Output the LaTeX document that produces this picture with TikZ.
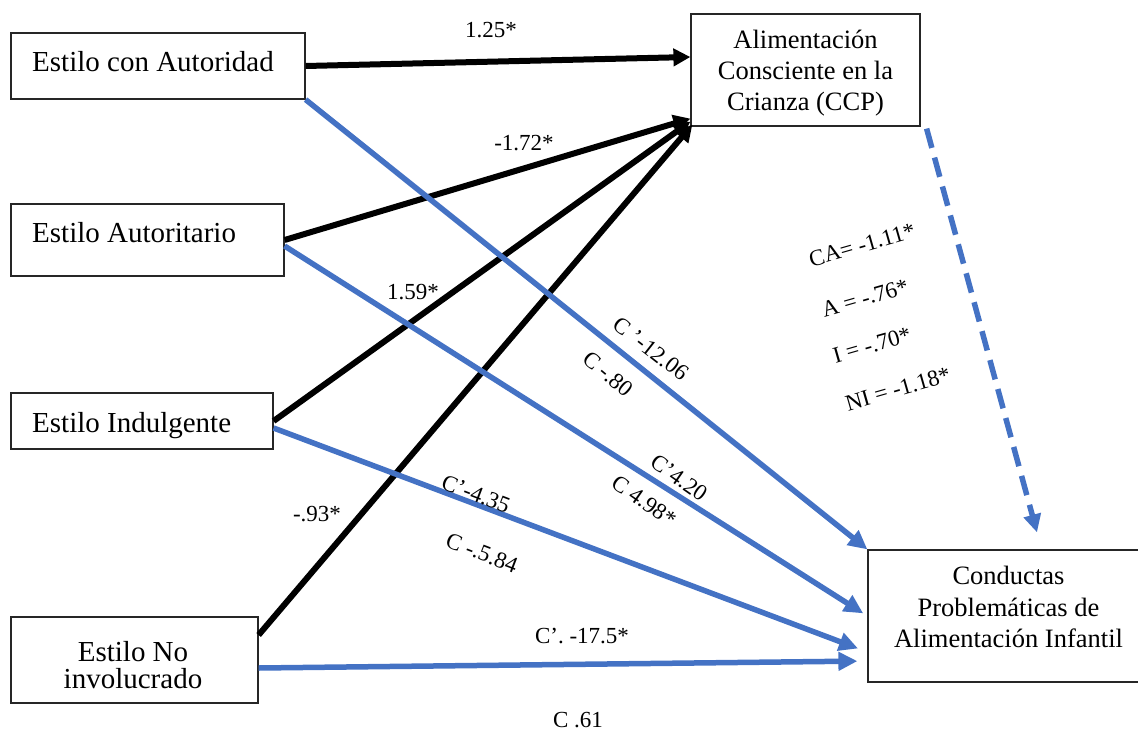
\documentclass[tikz,border=0pt]{standalone}
\usepackage{fontspec}
\setmainfont{Liberation Serif}
\usetikzlibrary{arrows.meta}
\definecolor{wblue}{HTML}{4472C4}
\begin{document}
\begin{tikzpicture}[x=1pt,y=-1pt,
  box/.style={draw=black!85, line width=1.2pt, inner sep=0pt},
  ltext/.style={font=\fontsize{29}{27.5}\selectfont, inner sep=0pt},
  rtext/.style={font=\fontsize{26.5}{31}\selectfont, inner sep=0pt, align=center},
  lab/.style={font=\fontsize{23}{26}\selectfont, inner sep=0pt},
  blk/.style={line width=6pt, -{Triangle[length=17pt,width=17pt]}},
  blu/.style={wblue, line width=5.5pt, -{Triangle[length=19pt,width=18pt]}}]
\useasboundingbox (0,0) rectangle (1138,731);
\clip (0,0) rectangle (1138,731);

% boxes
\node[box, minimum width=294pt, minimum height=66pt] (b1) at (158,66) {};
\node[box, minimum width=273pt, minimum height=72pt] (b2) at (147.5,240) {};
\node[box, minimum width=262pt, minimum height=56pt] (b3) at (142,421) {};
\node[box, minimum width=247pt, minimum height=86pt] (b4) at (134.5,660) {};
\node[box, minimum width=229pt, minimum height=112pt] (ccp) at (805.5,70) {};
\node[box, minimum width=280pt, minimum height=132pt] (cp) at (1008,616) {};

% box texts
\node[ltext, anchor=base west] (t1) at (32,71) {Estilo con Autoridad};
\node[ltext, anchor=base west] (t2) at (32,242) {Estilo Autoritario};
\node[ltext, anchor=base west] (t3) at (32,432) {Estilo Indulgente};
\node[ltext, align=center] (t4) at (133,665) {Estilo No\\involucrado};
\node[rtext] (t5) at (805.5,73.5) {Alimentación\\Consciente en la\\Crianza (CCP)};
\node[rtext, font=\fontsize{26.5}{31.5}\selectfont] (t6) at (1008.5,607) {Conductas\\Problemáticas de\\Alimentación Infantil};

% black paths
\draw[blk] (b1.east) -- ([yshift=13pt]ccp.west);
\draw[blk] (b2.east) -- ([yshift=8pt]ccp.south west);
\draw[blk] (b3.east) -- ([yshift=5pt]ccp.south west);
\draw[blk] ([yshift=25pt]b4.east) -- ([xshift=2pt,yshift=2pt]ccp.south west);

% blue paths
\draw[blu] (b1.south east) -- (cp.north west);
\draw[blu, shorten >=5pt] ([yshift=-6pt]b2.east) -- (cp.west);
\draw[blu, shorten >=10pt] ([yshift=-7pt]b3.east) -- ([yshift=-36pt]cp.west);
\draw[blu, shorten >=10pt] ([yshift=-8pt]b4.east) -- ([yshift=-45pt]cp.west);
\draw[blu, line width=5.5pt, dash pattern=on 20pt off 10pt, -{Triangle[length=18pt,width=17pt]}]
  ([xshift=6pt,yshift=-2pt]ccp.south east) -- ([xshift=29pt,yshift=17pt]cp.north);

% labels
\node[lab] (l1) at (491,30) {1.25*};
\node[lab] (l2) at (524,143) {-1.72*};
\node[lab] (l3) at (413,292) {1.59*};
\node[lab] (l4) at (317,514) {-.93*};
\node[lab, rotate=-38] (l5) at (651,349) {C ’-12.06};
\node[lab, rotate=-40] (l6) at (608,374) {C -.80};
\node[lab, rotate=-35] (l7) at (679,478) {C’4.20};
\node[lab, rotate=-35] (l8) at (644,501) {C 4.98*};
\node[lab, rotate=-21] (l9) at (476,494) {C’-4.35};
\node[lab, rotate=-21] (l10) at (482,553) {C -.5.84};
\node[lab] (l11) at (582,636) {C’. -17.5*};
\node[lab] (l12) at (578,720) {C .61};
\node[lab, rotate=16] (l13) at (862,245) {CA= -1.11*};
\node[lab, rotate=16] (l14) at (865,298) {A = -.76*};
\node[lab, rotate=16] (l15) at (872,345) {I = -.70*};
\node[lab, rotate=16] (l16) at (898,389) {NI = -1.18*};
\end{tikzpicture}
\end{document}
